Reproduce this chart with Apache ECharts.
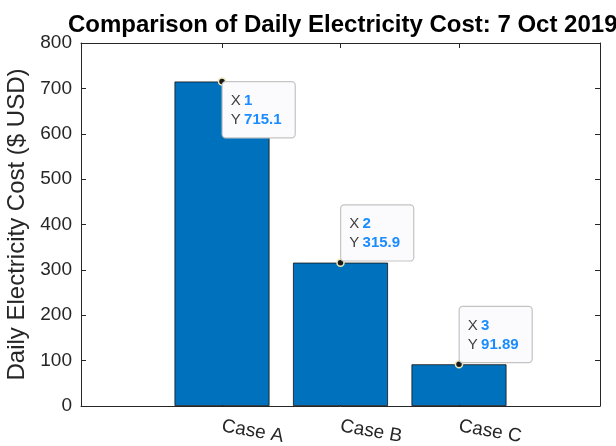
<!DOCTYPE html>
<html>
<head>
<meta charset="utf-8">
<script src="https://cdn.jsdelivr.net/npm/echarts@6/dist/echarts.min.js"></script>
<style>
html,body{margin:0;padding:0;background:#fff;}
#chart{width:616px;height:446px;}
</style>
</head>
<body>
<div id="chart"></div>
<script>
// ---- data ----
const categories = ["Case A", "Case B", "Case C"];
const positions = [1, 2, 3];
const costs = [715.1, 315.9, 91.89];
const costLabels = ["715.1", "315.9", "91.89"];
const yTicks = [0, 100, 200, 300, 400, 500, 600, 700, 800];

const FONT = '"Liberation Sans", Arial, Helvetica, sans-serif';
const AX = '#262626';

const chart = echarts.init(document.getElementById('chart'), null, {renderer: 'canvas'});

const barData = positions.map((p, i) => [p, costs[i]]);
const tipBelow = [true, false, false];
const tipData = positions.map((p, i) => ({
  value: [p, costs[i]],
  label: tipBelow[i]
    ? {position: [5, 5], align: 'left', verticalAlign: 'top'}
    : {position: [5, 2], align: 'left', verticalAlign: 'bottom'}
}));

const axisCommon = {
  splitLine: {show: false},
  axisLine: {show: true, onZero: false, lineStyle: {color: AX, width: 1}},
};

const option = {
  animation: false,
  backgroundColor: '#fff',
  title: {
    text: 'Comparison of Daily Electricity Cost: 7 Oct 2019',
    left: 63, top: 8,
    textStyle: {fontFamily: FONT, fontSize: 24, fontWeight: 'bold', color: '#000'}
  },
  grid: {left: 81, right: 16, top: 43, bottom: 40, containLabel: false, outerBoundsMode: 'none'},
  xAxis: [Object.assign({
    type: 'value', min: -0.19, max: 4.19, position: 'bottom',
    axisTick: {show: true, inside: true, length: 5, customValues: positions, lineStyle: {color: AX}},
    axisLabel: {
      customValues: positions, rotate: -10, margin: 20,
      fontFamily: FONT, fontSize: 19, color: AX,
      formatter: v => categories[positions.indexOf(Math.round(v))] || ''
    }
  }, axisCommon), Object.assign({
    type: 'value', min: -0.19, max: 4.19, position: 'top',
    axisTick: {show: true, inside: true, length: 5, customValues: positions, lineStyle: {color: AX}},
    axisLabel: {show: false}
  }, axisCommon)],
  yAxis: [Object.assign({
    type: 'value', min: 0, max: 800, interval: 100, position: 'left',
    name: 'Daily Electricity Cost ($ USD)', nameLocation: 'middle', nameGap: 49,
    nameTextStyle: {fontFamily: FONT, fontSize: 24, color: AX},
    axisTick: {show: true, inside: true, length: 5, lineStyle: {color: AX}},
    axisLabel: {margin: 9, fontFamily: FONT, fontSize: 19, color: AX,
      formatter: v => yTicks.includes(v) ? String(v) : ''}
  }, axisCommon), Object.assign({
    type: 'value', min: 0, max: 800, interval: 100, position: 'right',
    axisTick: {show: true, inside: true, length: 5, lineStyle: {color: AX}},
    axisLabel: {show: false}
  }, axisCommon)],
  series: [{
    type: 'bar', xAxisIndex: 0, yAxisIndex: 0,
    data: barData, barWidth: 95,
    itemStyle: {color: '#0072BD', borderColor: '#111', borderWidth: 0.8}
  }, {
    type: 'scatter', xAxisIndex: 0, yAxisIndex: 0,
    data: tipData, symbol: 'circle', symbolSize: 7, z: 10,
    itemStyle: {color: '#1a1a1a', borderColor: '#efe8b8', borderWidth: 1.5, opacity: 1},
    label: {
      show: true,
      backgroundColor: '#fbfbfe', borderColor: '#c4c4c4', borderWidth: 1.2, borderRadius: 3,
      padding: [9, 13, 8, 8],
      formatter: p => '{k|X} {v|' + p.value[0] + '}\n{k|Y} {v|' + costLabels[p.dataIndex] + '}',
      rich: {
        k: {fontFamily: FONT, fontSize: 15, color: '#404040', lineHeight: 19},
        v: {fontFamily: FONT, fontSize: 15, fontWeight: 'bold', color: '#1a8cff', lineHeight: 19}
      }
    },
    emphasis: {disabled: true}
  }]
};
chart.setOption(option);
</script>
</body>
</html>
